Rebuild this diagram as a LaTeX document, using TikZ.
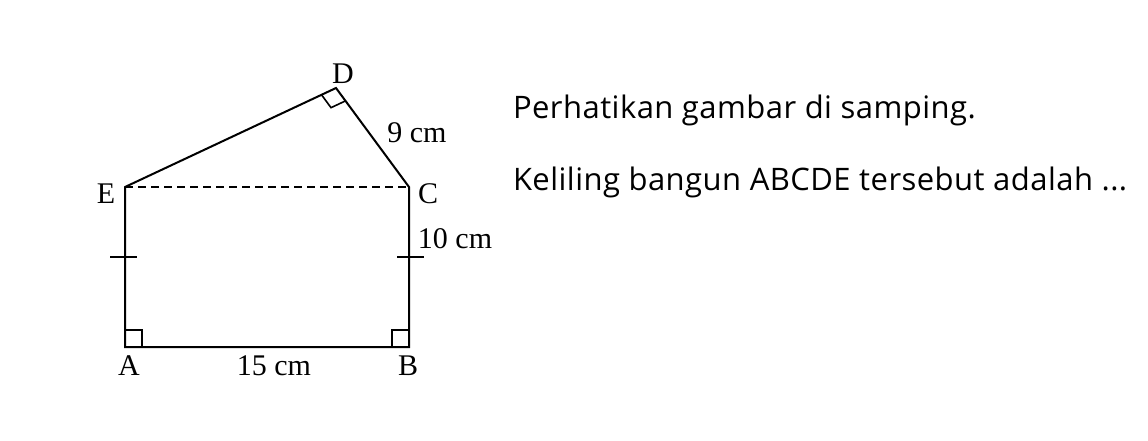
\documentclass[tikz,border=0pt]{standalone}
\usepackage{fontspec}
\setmainfont{Liberation Serif}
\newfontfamily\notefont[LetterSpace=1.5]{Open Sans}
\usetikzlibrary{calc}

\begin{document}
\begin{tikzpicture}[x=1pt,y=-1pt,line width=2pt,
	lbl/.style={anchor=base,inner sep=0pt,font=\fontsize{30}{34}\selectfont},
	txt/.style={anchor=base west,inner sep=0pt,font=\notefont\fontsize{31}{36}\selectfont}]
		\useasboundingbox (0,0) rectangle (1148,440);
		
		\coordinate (A) at (125,347);
		\coordinate (B) at (409,347);
		\coordinate (C) at (409,187);
		\coordinate (E) at (125,187);
		\coordinate (D) at (336,88);
		
		\draw (E) -- (A) -- (B) -- (C) -- (D) -- cycle;
		\draw[dashed,dash pattern=on 8pt off 5pt,line width=1.6pt] (E) -- (C);
		
		\draw[line width=1.6pt] (A) ++(0,-17) -- ++(17,0) -- ++(0,17);
		\draw[line width=1.6pt] (B) ++(0,-17) -- ++(-17,0) -- ++(0,17);
		\draw[line width=1.6pt] ($(D)!16pt!(E)$) -- ($($(D)!16pt!(E)$)+($(D)!16pt!(C)$)-(D)$) -- ($(D)!16pt!(C)$);
		
		\draw[line width=1.6pt] (110,257) -- (137,257);
		\draw[line width=1.6pt] (397,257) -- (424,257);
		
		\node[lbl] (lA) at (129,375) {A};
		\node[lbl] (lB) at (408,375) {B};
		\node[lbl] (lC) at (428,203) {C};
		\node[lbl] (lD) at (343,83) {D};
		\node[lbl] (lE) at (106,203) {E};
		\node[lbl] (lAB) at (274,375) {15 cm};
		\node[lbl] (lCD) at (417,142) {9 cm};
		\node[lbl] (lBC) at (455,248) {10 cm};
		
		\node[txt] (t1) at (512,118) {Perhatikan gambar di samping.};
		\node[txt] (t2) at (512,190) {Keliling bangun ABCDE tersebut adalah ...};
	\end{tikzpicture}
\end{document}
